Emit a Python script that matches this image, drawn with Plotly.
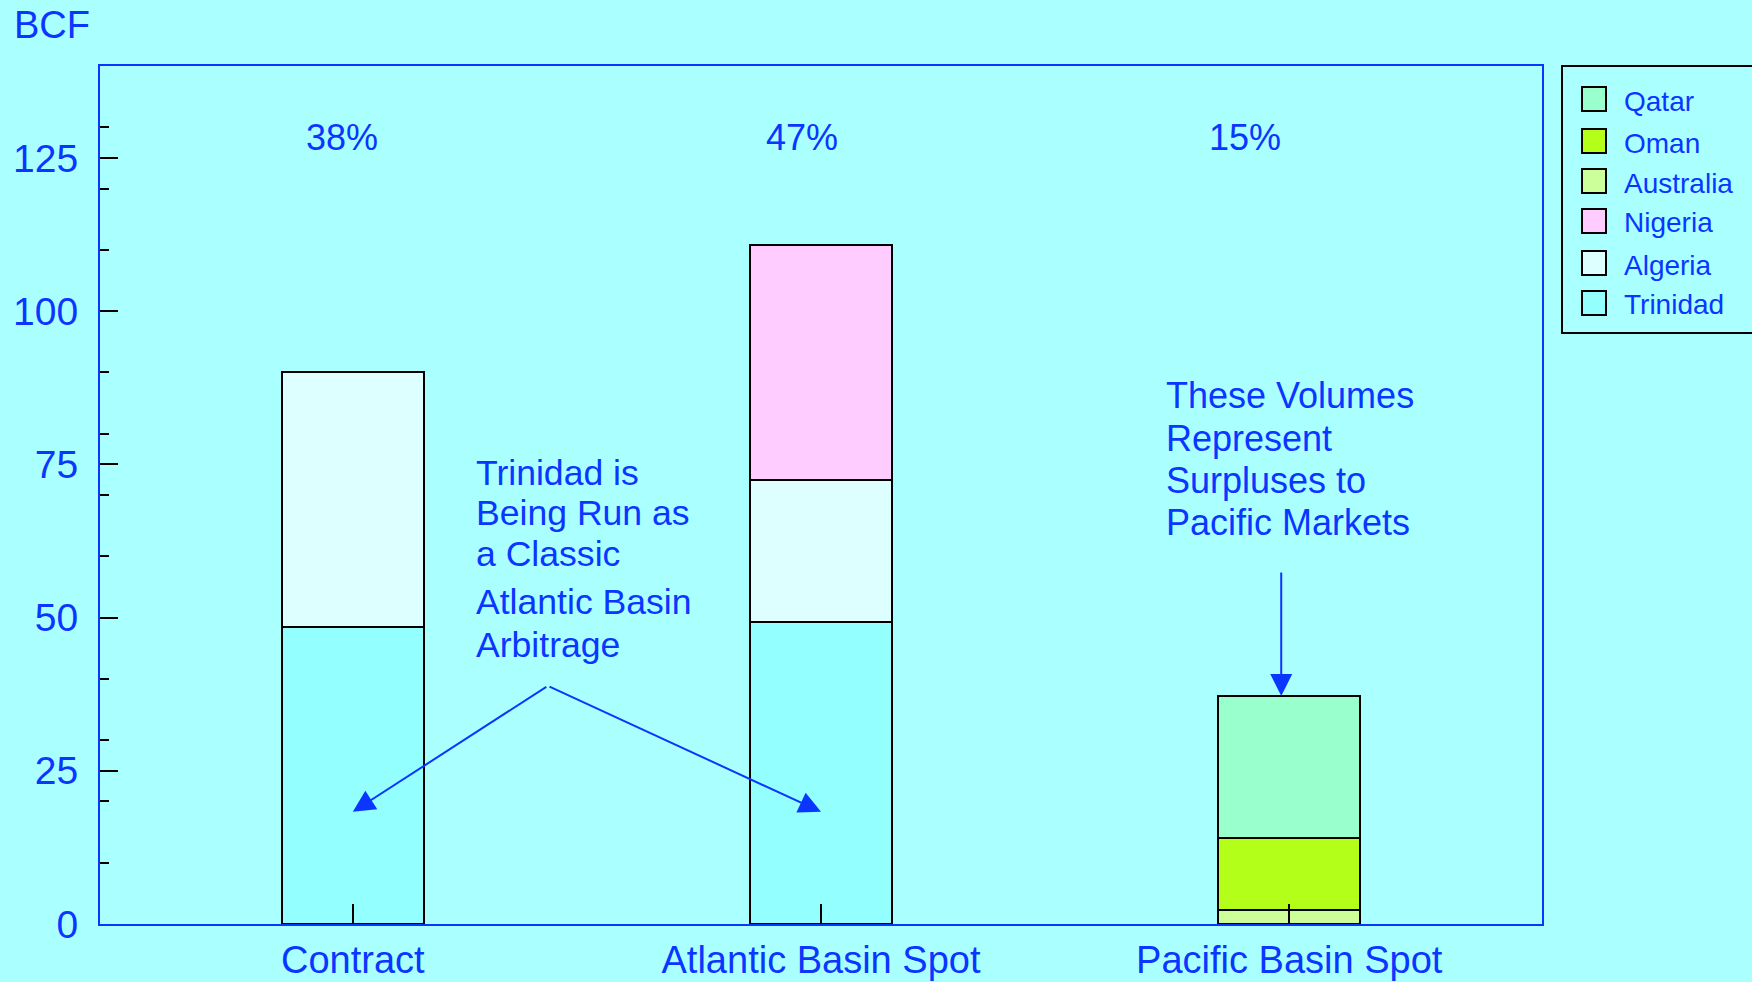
import plotly.graph_objects as go

# ---- data -------------------------------------------------------------
categories = ["Contract", "Atlantic Basin Spot", "Pacific Basin Spot"]

trinidad = [48.4, 49.3, None]
algeria = [41.7, 23.1, None]
nigeria = [None, 38.4, None]
australia = [None, None, 2.3]
oman = [None, None, 11.7]
qatar = [None, None, 23.2]

share_labels = ["38%", "47%", "15%"]

series_names = ["Trinidad", "Algeria", "Nigeria", "Australia", "Oman", "Qatar"]
series_values = [trinidad, algeria, nigeria, australia, oman, qatar]
series_colors = ["#93FFFF", "#DDFFFF", "#FFCCFF", "#CCFF99", "#B3FF1A", "#99FFCC"]

# ---- styling ----------------------------------------------------------
BG = "#AAFFFF"
BLUE = "#0A36FF"
FONT = "Arial, Liberation Sans, sans-serif"

W, H = 1752, 982
PL, PR, PT, PB = 100, 1542, 66, 924   # plot area in pixels


def px(x):
    return (x - PL) / (PR - PL)


def py(y):
    return (PB - y) / (PB - PT)


fig = go.Figure()
for name, vals, col in zip(series_names, series_values, series_colors):
    fig.add_trace(go.Bar(
        x=categories, y=vals, name=name, width=0.304,
        marker=dict(color=col, line=dict(color="black", width=2)),
        showlegend=False,
    ))

annotations = []
shapes = []

# axis title
annotations.append(dict(text="BCF", xref="paper", yref="paper", x=px(12), y=py(25),
                        xanchor="left", yanchor="middle", showarrow=False,
                        font=dict(size=38, color=BLUE, family=FONT)))

# share labels above each bar
for lab, xp in zip(share_labels, [342, 802, 1245]):
    annotations.append(dict(text=lab, xref="paper", yref="paper", x=px(xp), y=py(137),
                            xanchor="center", yanchor="middle", showarrow=False,
                            font=dict(size=36, color=BLUE, family=FONT)))

# callout text blocks
left_lines = [("Trinidad is", 473), ("Being Run as", 513), ("a Classic", 554),
              ("Atlantic Basin", 602), ("Arbitrage", 645)]
for t, yp in left_lines:
    annotations.append(dict(text=t, xref="paper", yref="paper", x=px(474), y=py(yp),
                            xanchor="left", yanchor="middle", showarrow=False,
                            font=dict(size=35.6, color=BLUE, family=FONT)))
right_lines = [("These Volumes", 396), ("Represent", 438), ("Surpluses to", 480),
               ("Pacific Markets", 522)]
for t, yp in right_lines:
    annotations.append(dict(text=t, xref="paper", yref="paper", x=px(1164), y=py(yp),
                            xanchor="left", yanchor="middle", showarrow=False,
                            font=dict(size=36, color=BLUE, family=FONT)))

# arrows
arrow_style = dict(showarrow=True, arrowhead=2, arrowsize=2.2, arrowwidth=2,
                   arrowcolor=BLUE, text="", axref="pixel", ayref="pixel")
annotations.append(dict(x=0, y=18.3, ax=195, ay=-126, **arrow_style))
annotations.append(dict(x=1, y=18.3, ax=-273, ay=-126, **arrow_style))
pacific_total = sum(v for v in (australia[2], oman[2], qatar[2]))
annotations.append(dict(x=1.983, y=pacific_total, ax=0, ay=-125, **arrow_style))

# legend (drawn top to bottom in reverse stacking order)
shapes.append(dict(type="rect", xref="paper", yref="paper",
                   x0=px(1562), x1=px(1800), y0=py(333), y1=py(66),
                   line=dict(color="black", width=2), fillcolor="rgba(0,0,0,0)"))
leg_y = [99, 141, 181, 221, 263, 303]
for (name, col), yc in zip(list(zip(series_names, series_colors))[::-1], leg_y):
    shapes.append(dict(type="rect", xref="paper", yref="paper",
                       x0=px(1582), x1=px(1606), y0=py(yc + 12), y1=py(yc - 12),
                       line=dict(color="black", width=2), fillcolor=col))
    annotations.append(dict(text=name, xref="paper", yref="paper", x=px(1622), y=py(yc + 2),
                            xanchor="left", yanchor="middle", showarrow=False,
                            font=dict(size=28, color=BLUE, family=FONT)))

fig.update_layout(
    width=W, height=H,
    margin=dict(l=PL, r=W - PR, t=PT, b=H - PB, pad=0, autoexpand=False),
    paper_bgcolor=BG, plot_bgcolor=BG,
    barmode="stack",
    font=dict(family=FONT, color=BLUE),
    annotations=annotations, shapes=shapes,
    showlegend=False,
)
fig.update_xaxes(
    range=[-0.54, 2.54], showgrid=False, zeroline=False, automargin=False,
    showline=True, linecolor=BLUE, linewidth=2, mirror=True,
    ticks="inside", ticklen=20, tickcolor="black", tickwidth=2,
    tickfont=dict(size=38, color=BLUE, family=FONT), ticklabelstandoff=1,
)
fig.update_yaxes(
    range=[0, 140], showgrid=False, zeroline=False, automargin=False,
    showline=True, linecolor=BLUE, linewidth=2, mirror=True,
    tickmode="linear", tick0=0, dtick=25,
    ticks="inside", ticklen=18, tickcolor="black", tickwidth=2,
    minor=dict(tickmode="linear", tick0=0, dtick=10, ticks="inside", ticklen=9,
               tickcolor="black", tickwidth=1.5),
    tickfont=dict(size=39, color=BLUE, family=FONT), ticklabelstandoff=12,
)

fig.write_html("out.html")
